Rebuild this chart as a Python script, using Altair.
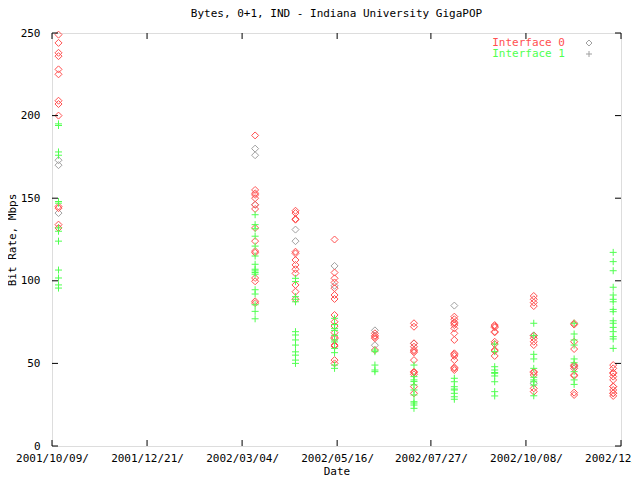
import altair as alt
import pandas as pd

start = "2001-10-09"
end = "2002-12-20"
dates = ["2001-10-14", "2002-03-14", "2002-04-14", "2002-05-14", "2002-06-14", "2002-07-14",
         "2002-08-14", "2002-09-14", "2002-10-14", "2002-11-14", "2002-12-14"]

iface0 = [
    [249, 244, 238, 236, 228, 225, 209, 207, 200, 145, 144, 134, 132],
    [188, 155, 153, 152, 150, 146, 143.5, 132, 124, 118, 117, 101.7, 99.7, 87.6, 86.5],
    [142.4, 141, 137.4, 137, 117.6, 116.6, 112.6, 109.6, 107, 104.5, 97.5, 93.4, 88.8],
    [125, 105, 101.5, 99, 95.5, 91.4, 89, 79.3, 75.2, 72.6, 68.6, 65.8, 65, 61.1, 60.5, 52, 50],
    [68.2, 66.8, 66, 65.2, 58.1],
    [74.3, 72.2, 62.2, 60.1, 58.1, 57.5, 56.7, 52, 45, 44.5, 43.4, 35.9, 31.9],
    [78.3, 76.7, 74.9, 74.3, 73.2, 71.2, 68.2, 64.2, 56.1, 55.5, 54.5, 52, 47.6, 47, 46],
    [73.2, 72.5, 71.8, 69.2, 68.8, 63.1, 61.7, 58.1, 57.5, 54.5],
    [90.8, 88.8, 86.8, 84.7, 66.8, 65.2, 63.1, 61.1, 45, 44.5, 43, 34.9, 32.9],
    [74.3, 73.5, 63.1, 58.7, 49, 48.5, 47, 43, 42.5, 32.3, 30.9],
    [49, 47, 44.4, 44, 42, 40, 36, 35.9, 33.9, 32, 31.9, 30.3],
]
iface1 = [
    [195, 194, 178, 176, 148, 147, 132, 130, 124, 106.5, 101.7, 97.5, 95.6],
    [140, 134, 131.5, 127, 121, 115, 110, 107, 106, 105, 104, 94.6, 92, 85.5, 81.5, 77],
    [101.5, 99.5, 90.4, 88.8, 87.3, 69.2, 67.2, 64.2, 61.1, 57, 55, 52, 50],
    [77.3, 73.5, 71.2, 70, 67, 64.2, 63, 59.1, 56.5, 49, 47],
    [58.1, 57.1, 49, 46, 45],
    [49, 42, 40, 39, 37, 33.9, 30.9, 26.8, 26, 24.8, 22.8],
    [41, 38.9, 35.9, 34.5, 33.9, 31.9, 29.8, 28.3],
    [61.7, 57.1, 48, 46, 44.5, 44, 42.4, 38.9, 32.9, 30.3],
    [74.3, 66.8, 55.5, 52.7, 47, 41.6, 40, 38.9, 36.9, 30.4],
    [74.3, 67.8, 64.2, 61.1, 52.7, 50.4, 45, 40, 37.3],
    [117.2, 111.6, 106.1, 96.1, 91.4, 88.8, 87.3, 82.7, 81.3, 75.8, 74.3, 71.8, 69.2, 66.2, 64.8, 59.1],
]
grey_pts = [
    [173, 170, 141],
    [180, 176, 146],
    [131, 124],
    [109, 97],
    [70, 61],
    [62],
    [85],
    [],
    [67, 38],
    [48],
    [],
]

tick_dates = ["2001-10-09", "2001-12-21", "2002-03-04", "2002-05-16",
              "2002-07-27", "2002-10-08", "2002-12-20"]
y_ticks = [0, 50, 100, 150, 200, 250]

legend_labels = ["Interface 0", "Interface 1"]

RED, GREEN, GREY = "#ff5050", "#50ff50", "#a0a0a0"
FONT = "DejaVu Sans Mono"
PLUS = "M-1,0H1M0,-1V1"


def frame(series):
    rows = []
    for d, vals in zip(dates, series):
        for v in vals:
            rows.append({"date": d, "rate": v})
    return pd.DataFrame(rows)


df0, df1, dfg = frame(iface0), frame(iface1), frame(grey_pts)


def dt(s):
    y, m, d = (int(p) for p in s.split("-"))
    return alt.DateTime(year=y, month=m, date=d, utc=True)


xscale = alt.Scale(type="utc", domain=[dt(start), dt(end)], nice=False)
yscale = alt.Scale(domain=[0, 250], nice=False, zero=True)

axis_style = dict(labelFont=FONT, labelFontSize=11, labelColor="black",
                  titleFont=FONT, titleFontSize=11, titleFontWeight="normal",
                  titleColor="black", ticks=False, domain=False, grid=False)

xaxis = alt.Axis(values=[dt(s) for s in tick_dates], format="%Y/%m/%d/", title="Date",
                 labelPadding=6, titlePadding=2, labelFlush=False, labelOverlap=False,
                 labelBound=False, **axis_style)
yaxis = alt.Axis(values=y_ticks, title="Bit Rate, Mbps", labelPadding=12,
                 titlePadding=3, **axis_style)

X = alt.X("date:T", scale=xscale, axis=xaxis)
Y = alt.Y("rate:Q", scale=yscale, axis=yaxis)


def pts(df, shape, color):
    return alt.Chart(df).mark_point(shape=shape, filled=False, color=color, size=49,
                                    strokeWidth=1, opacity=1).encode(x=X, y=Y)


grey_layer = pts(dfg, "diamond", GREY)
red_layer = pts(df0, "diamond", RED)
green_layer = pts(df1, PLUS, GREEN)

ydf = pd.DataFrame({"rate": y_ticks})
xdf = pd.DataFrame({"date": tick_dates})
ytick_l = alt.Chart(ydf).mark_rule(color="black", strokeWidth=1).encode(
    y=Y, x=alt.value(0), x2=alt.value(6))
ytick_r = alt.Chart(ydf).mark_rule(color="black", strokeWidth=1).encode(
    y=Y, x=alt.value(563), x2=alt.value(569))
xtick_b = alt.Chart(xdf).mark_rule(color="black", strokeWidth=1).encode(
    x=X, y=alt.value(413), y2=alt.value(407))
xtick_t = alt.Chart(xdf).mark_rule(color="black", strokeWidth=1).encode(
    x=X, y=alt.value(0), y2=alt.value(6))

leg = pd.DataFrame({"label": legend_labels})
leg0 = alt.Chart(leg).transform_filter(alt.datum.label == legend_labels[0])
leg1 = alt.Chart(leg).transform_filter(alt.datum.label == legend_labels[1])
leg_t0 = leg0.mark_text(font=FONT, fontSize=11, align="right", baseline="middle",
                        color=RED).encode(text="label:N", x=alt.value(513), y=alt.value(10))
leg_t1 = leg1.mark_text(font=FONT, fontSize=11, align="right", baseline="middle",
                        color=GREEN).encode(text="label:N", x=alt.value(513), y=alt.value(21))
leg_d = leg0.mark_point(shape="diamond", filled=False, color=GREY, size=36,
                        strokeWidth=1, opacity=1).encode(x=alt.value(537), y=alt.value(10))
leg_p = leg1.mark_point(shape=PLUS, filled=False, color=GREY, size=36,
                        strokeWidth=1, opacity=1).encode(x=alt.value(537), y=alt.value(21))

chart = alt.layer(
    grey_layer, red_layer, green_layer, ytick_l, ytick_r, xtick_b, xtick_t,
    leg_t0, leg_t1, leg_d, leg_p,
).properties(
    width=569, height=413,
    padding={"left": 44, "top": 25, "right": 11, "bottom": 31},
    autosize=alt.AutoSizeParams(type="none"),
    title=alt.Title("Bytes, 0+1, IND - Indiana University GigaPOP", font=FONT,
                    fontSize=11, fontWeight="normal", color="black", offset=8,
                    anchor="middle"),
).configure_view(stroke="black", strokeWidth=1).configure(background="white")

chart.save("out.html", embed_options={"renderer": "svg", "actions": False})
